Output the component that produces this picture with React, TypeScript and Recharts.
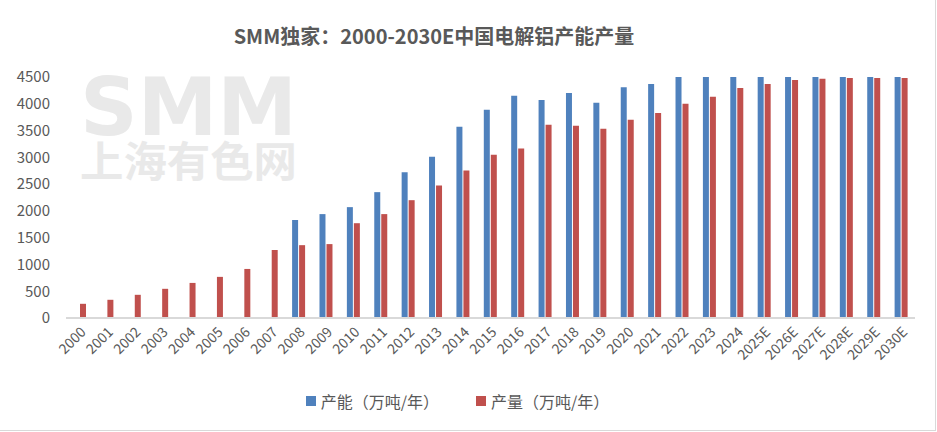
import React from 'react';
import { BarChart, Bar, XAxis, YAxis, Legend } from 'recharts';

const years = [
    '2000', '2001', '2002', '2003', '2004', '2005', '2006', '2007', '2008', '2009',
    '2010', '2011', '2012', '2013', '2014', '2015', '2016', '2017', '2018', '2019',
    '2020', '2021', '2022', '2023', '2024', '2025E', '2026E', '2027E', '2028E', '2029E', '2030E'
];

// 产能（万吨/年）
const capacity = [
    null, null, null, null, null, null, null, null, 1830, 1940,
    2070, 2350, 2720, 3010, 3570, 3890, 4150, 4070, 4200, 4020,
    4310, 4370, 4500, 4500, 4500, 4500, 4500, 4500, 4500, 4500, 4500
];

// 产量（万吨/年）
const output = [
    265, 340, 433, 545, 655, 768, 916, 1270, 1360, 1380,
    1770, 1940, 2200, 2475, 2755, 3050, 3165, 3610, 3590, 3535,
    3700, 3830, 4000, 4130, 4295, 4370, 4445, 4465, 4480, 4480, 4480
];

const yTicks = [0, 500, 1000, 1500, 2000, 2500, 3000, 3500, 4000, 4500];

const BLUE = '#4F81BD';
const RED = '#C0504D';
const TEXT = '#595959';
const FONT = '"Noto Sans CJK SC", "Noto Sans", sans-serif';

const chartData = years.map((year, i) => ({
    year,
    capacity: capacity[i],
    output: output[i]
}));

const legendItems = [
    { name: '产能（万吨/年）', color: BLUE },
    { name: '产量（万吨/年）', color: RED }
];

// legend drawn by hand so the spacing matches the Excel one
const ChartLegend = () => (
    <div style={{ display: 'flex', justifyContent: 'center', alignItems: 'center', gap: 37, height: 26 }}>
        {legendItems.map(item => (
            <div key={item.name} style={{ display: 'flex', alignItems: 'center', gap: 5 }}>
                <span style={{ width: 10, height: 10, background: item.color, display: 'inline-block' }} />
                <span style={{ fontSize: 16, color: TEXT }}>{item.name}</span>
            </div>
        ))}
    </div>
);

export default function App() {
    return (
        <div
            style={{
                position: 'fixed',
                left: 0,
                top: 0,
                width: 937,
                height: 432,
                background: '#fff',
                fontFamily: FONT,
                overflow: 'hidden'
            }}
        >
            {/* watermark */}
            <svg width={937} height={432} style={{ position: 'absolute', left: 0, top: 0 }}>
                <text
                    x={80}
                    y={135}
                    fontSize={80}
                    fontWeight={900}
                    fill="#e9e9e9"
                    textLength={217}
                    lengthAdjust="spacingAndGlyphs"
                    fontFamily='"DejaVu Sans", sans-serif'
                >
                    SMM
                </text>
                <text
                    x={80}
                    y={177}
                    fontSize={42}
                    fontWeight={700}
                    fill="#e9e9e9"
                    textLength={217}
                    lengthAdjust="spacingAndGlyphs"
                >
                    上海有色网
                </text>
            </svg>

            <div
                style={{
                    position: 'absolute',
                    left: 0,
                    top: 21,
                    width: 868,
                    textAlign: 'center',
                    fontSize: 20,
                    fontWeight: 700,
                    color: TEXT
                }}
            >
                SMM独家：2000-2030E中国电解铝产能产量
            </div>

            <div style={{ position: 'absolute', left: 0, top: 0 }}>
                <BarChart
                    width={937}
                    height={432}
                    data={chartData}
                    margin={{ top: 77, right: 22, bottom: 18, left: 0 }}
                    barSize={6}
                    barGap={1}
                >
                    <XAxis
                        dataKey="year"
                        interval={0}
                        height={70}
                        axisLine={{ stroke: '#d9d9d9', strokeWidth: 2 }}
                        tickLine={false}
                        angle={-45}
                        textAnchor="end"
                        tick={{ fill: TEXT, fontSize: 14 }}
                    />
                    <YAxis
                        domain={[0, 4500]}
                        ticks={yTicks}
                        width={66}
                        axisLine={false}
                        tickLine={false}
                        tickMargin={10}
                        tick={{ fill: TEXT, fontSize: 15 }}
                    />
                    <Legend verticalAlign="bottom" wrapperStyle={{ height: 26 }} content={<ChartLegend />} />
                    <Bar dataKey="capacity" name="产能（万吨/年）" fill={BLUE} isAnimationActive={false} />
                    <Bar dataKey="output" name="产量（万吨/年）" fill={RED} isAnimationActive={false} />
                </BarChart>
            </div>

            <div
                style={{
                    position: 'absolute',
                    left: 0,
                    top: 0,
                    width: 935,
                    height: 430,
                    borderRight: '1px solid #d9d9d9',
                    borderBottom: '1px solid #d9d9d9',
                    pointerEvents: 'none'
                }}
            />
        </div>
    );
}
